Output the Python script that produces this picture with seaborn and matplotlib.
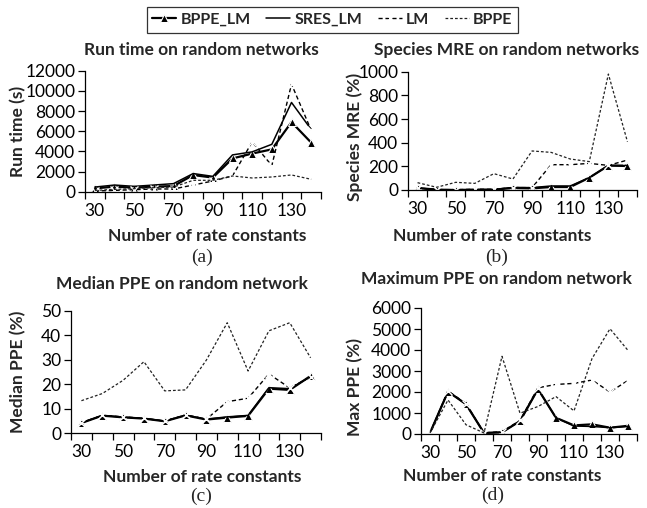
import numpy as np
import pandas as pd
import matplotlib
matplotlib.use("Agg")
import matplotlib.pyplot as plt
import seaborn as sns
from matplotlib.ticker import MultipleLocator, FixedLocator

# ---------------- data ----------------
rate_constants = [30, 40, 50, 60, 70, 80, 90, 100, 110, 120, 130, 140]
tick_labels = [30, 50, 70, 90, 110, 130]
series_names = ["BPPE_LM", "SRES_LM", "LM", "BPPE"]

run_bppe_lm = [330, 500, 400, 500, 560, 1650, 1400, 3300, 3780, 4200, 6900, 4870]
run_sres_lm = [460, 660, 530, 660, 800, 1800, 1520, 3650, 3950, 4700, 8850, 6170]
run_lm = [70, 130, 200, 270, 270, 660, 1060, 1560, 4940, 2590, 10670, 6100]
run_bppe = [130, 230, 300, 400, 460, 1130, 1130, 1560, 1360, 1460, 1660, 1230]

mre_bppe_lm = [17, 3, 0, 3, 3, 17, 14, 25, 25, 104, 206, 203]
mre_sres_lm = [17, 3, 0, 3, 3, 22, 20, 34, 34, 104, 208, 208]
mre_lm = [17, 3, 3, 6, 6, 20, 20, 214, 214, 225, 208, 253]
mre_bppe = [62, 23, 65, 56, 138, 93, 330, 318, 262, 240, 980, 408]

med_bppe_lm = [4.2, 7.2, 6.5, 6.0, 4.9, 7.3, 5.6, 6.4, 7.1, 18.2, 17.7, 23.4]
med_sres_lm = [4.3, 7.3, 6.6, 6.1, 5.0, 7.4, 5.8, 6.7, 7.3, 18.6, 18.2, 23.1]
med_lm = [4.3, 7.3, 6.7, 6.1, 5.0, 7.5, 5.8, 12.9, 14.3, 24.2, 18.5, 23.0]
med_bppe = [13.3, 16.2, 21.6, 29.2, 17.3, 17.7, 29.9, 45.1, 25.4, 41.8, 45.1, 30.8]

max_bppe_lm = [50, 2020, 1420, 50, 80, 615, 2140, 770, 410, 460, 300, 390]
max_sres_lm = [50, 2020, 1420, 50, 80, 615, 2140, 770, 380, 360, 300, 360]
max_lm = [50, 2050, 1450, 50, 110, 645, 2200, 2360, 2410, 2570, 2000, 2550]
max_bppe = [50, 1620, 440, 50, 3700, 990, 1310, 1780, 1100, 3590, 5010, 3980]

panels = [
    dict(title="Run time on random networks", ylabel="Run time (s)", letter="(a)",
         data=[run_bppe_lm, run_sres_lm, run_lm, run_bppe], ymax=12000, ystep=2000),
    dict(title="Species MRE on random networks", ylabel="Species MRE (%)", letter="(b)",
         data=[mre_bppe_lm, mre_sres_lm, mre_lm, mre_bppe], ymax=1000, ystep=200),
    dict(title="Median PPE on random network", ylabel="Median PPE (%)", letter="(c)",
         data=[med_bppe_lm, med_sres_lm, med_lm, med_bppe], ymax=50, ystep=10),
    dict(title="Maximum PPE on random network", ylabel="Max PPE (%)", letter="(d)",
         data=[max_bppe_lm, max_sres_lm, max_lm, max_bppe], ymax=6000, ystep=1000),
]

# ---------------- layout (pixels, from top-left) ----------------
W, H = 647, 508
rects = [  # left, top, right, bottom
    (85, 70.7, 321, 191.7),
    (408, 71.7, 637, 190),
    (71, 310.7, 321, 433.3),
    (421, 308, 637, 434),
]
title_pos = [(201, 50), (507, 50), (182, 284), (496, 279)]
ylabel_pos = [(18, 131), (355, 137), (18, 372), (355, 387)]
xlabel_pos = [(207, 236), (492, 236), (202, 477), (502, 476)]
letter_pos = [(202, 257), (497, 257), (201, 496), (493, 495)]

sns.set_theme(style="white")
plt.rcParams["font.family"] = ["Lato", "DejaVu Sans"]

fig = plt.figure(figsize=(W / 100, H / 100), dpi=100)

styles = [
    dict(color="black", lw=1.6, linestyle="-", marker="^", markersize=5.5),
    dict(color="black", lw=1.1, linestyle="-"),
    dict(color="black", lw=1.0, linestyle=(0, (3, 2)), marker="x", markersize=6,
         markeredgewidth=1.0),
    dict(color="#222222", lw=0.9, linestyle=(0, (2.2, 1.6))),
]

FS = 12.5
handles = None
for p, (l, t, r, b), tp, yp, xp, lp in zip(panels, rects, title_pos, ylabel_pos,
                                          xlabel_pos, letter_pos):
    ax = fig.add_axes([l / W, 1 - b / H, (r - l) / W, (b - t) / H])
    for name, vals, st in zip(series_names, p["data"], styles):
        df = pd.DataFrame({"x": rate_constants, "y": vals})
        sns.lineplot(data=df, x="x", y="y", ax=ax, label=name, **st)
    if handles is None:
        handles, labels = ax.get_legend_handles_labels()
    if ax.legend_ is not None:
        ax.legend_.remove()

    ax.set_xlim(25, 145)
    ax.set_ylim(0, p["ymax"])
    ax.yaxis.set_major_locator(MultipleLocator(p["ystep"]))
    ax.xaxis.set_major_locator(FixedLocator(tick_labels))
    ax.set_xticklabels([str(v) for v in tick_labels])
    ax.xaxis.set_minor_locator(FixedLocator(np.arange(25, 146, 10)))
    ax.tick_params(axis="x", which="major", length=0, pad=8, labelsize=FS, colors="black")
    ax.tick_params(axis="x", which="minor", length=5, width=0.9, direction="out",
                   bottom=True, color="black")
    ax.tick_params(axis="y", which="major", length=5, width=0.9, direction="out",
                   left=True, pad=2, labelsize=FS, colors="black")
    sns.despine(ax=ax)
    for s in ("left", "bottom"):
        ax.spines[s].set_color("black")
        ax.spines[s].set_linewidth(0.9)

    def ac(px, py):
        return ((px - l) / (r - l), (b - py) / (b - t))

    ax.set_xlabel("Number of rate constants", fontsize=FS, fontweight="bold", va="center")
    ax.xaxis.set_label_coords(*ac(*xp))
    ax.set_ylabel(p["ylabel"], fontsize=FS, fontweight="bold", va="center")
    ax.yaxis.set_label_coords(*ac(*yp))
    fig.text(tp[0] / W, 1 - tp[1] / H, p["title"], ha="center", va="center",
             fontsize=FS, fontweight="bold")
    fig.text(lp[0] / W, 1 - lp[1] / H, p["letter"], ha="center", va="center",
             fontsize=14, family=["Liberation Serif", "DejaVu Serif"])

leg = fig.legend(handles, labels, loc="center", bbox_to_anchor=(332.5 / W, 1 - 20 / H),
                 ncol=4, frameon=True, fancybox=False, edgecolor="black",
                 handlelength=1.5, handletextpad=0.25, columnspacing=1.0,
                 borderpad=0.35, prop=dict(weight="bold", size=11.5))
leg.get_frame().set_linewidth(0.9)

fig.savefig("out.png", dpi=100)
